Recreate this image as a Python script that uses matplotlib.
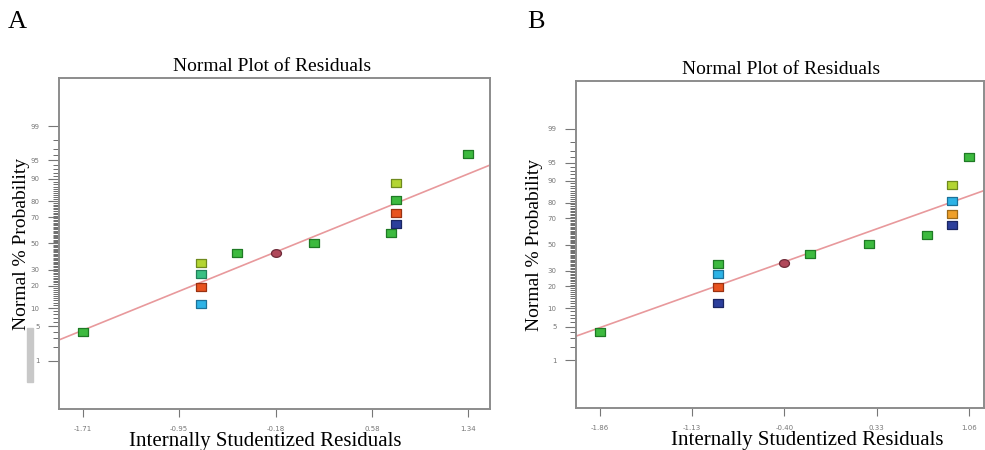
import numpy as np
import matplotlib
matplotlib.use('Agg')
import matplotlib.pyplot as plt
from matplotlib.patches import Rectangle
from statistics import NormalDist
import math

# residuals (x) and normal % probability (y)
a_x = [-1.71, -0.774, -0.774, -0.774, -0.774, -0.492, -0.182, 0.116, 0.730, 0.766, 0.766, 0.766, 0.766, 1.34]
a_p = [3.9, 34.8, 27.2, 19.3, 11.7, 42.7, 42.7, 50.0, 57.9, 65.4, 72.8, 80.8, 88.4, 96.2]
a_c = ['green', 'ygreen', 'teal', 'red', 'lblue', 'green', 'maroon', 'green', 'green', 'blue', 'red', 'green', 'ygreen', 'green']
a_line_x = [-1.90, 1.514]
a_line_p = [2.8, 94.0]
a_ticks = [-1.71, -0.95, -0.18, 0.58, 1.34]

b_x = [-1.86, -0.921, -0.921, -0.921, -0.921, -0.40, -0.194, 0.268, 0.730, 0.924, 0.924, 0.924, 0.924, 1.06]
b_p = [4.0, 34.9, 27.4, 19.5, 11.9, 35.9, 42.6, 50.3, 57.9, 65.5, 73.0, 80.7, 88.2, 96.0]
b_c = ['green', 'green', 'lblue', 'red', 'blue', 'maroon', 'green', 'green', 'green', 'blue', 'orange', 'lblue', 'ygreen', 'green']
b_line_x = [-2.046, 1.175]
b_line_p = [3.3, 86.0]
b_ticks = [-1.86, -1.13, -0.40, 0.33, 1.06]

y_major = [1, 5, 10, 20, 30, 50, 70, 80, 90, 95, 99]

colors = {'green': '#3dba3f', 'ygreen': '#b3d532', 'teal': '#39bf83', 'red': '#e8531f',
          'lblue': '#2db3e6', 'blue': '#2c3f9c', 'orange': '#efa02a', 'maroon': '#b0485a'}
edges = {'green': '#1f7a25', 'ygreen': '#6f8a1e', 'teal': '#22805a', 'red': '#9a3212',
         'lblue': '#1d7299', 'blue': '#1b2763', 'orange': '#9d6a1a', 'maroon': '#6e2a38'}

# slightly flattened square and ellipse markers
rect_marker = [(-1.25, -1), (1.25, -1), (1.25, 1), (-1.25, 1), (-1.25, -1)]
t = np.linspace(0, 2 * np.pi, 40)
oval_marker = list(zip(1.3 * np.cos(t), np.sin(t)))

nd = NormalDist()


def fwd(p):
    p = np.clip(np.asarray(p, dtype=float), 1e-7, 100 - 1e-7)
    return np.vectorize(lambda v: nd.inv_cdf(v / 100.0))(p) if p.size else p


def inv(z):
    z = np.asarray(z, dtype=float)
    return np.vectorize(lambda v: 50.0 * (1 + math.erf(v / math.sqrt(2))))(z) if z.size else z


serif = ['Liberation Serif', 'DejaVu Serif']
grey = '#8c8c8c'

fig = plt.figure(figsize=(9.85, 4.5), dpi=100)


def panel(rect, xs, ps, cs, lx, lp, ticks, xlim, title_x, xlab_x, ylab_x):
    ax = fig.add_axes(rect)
    ax.set_yscale('function', functions=(fwd, inv))
    ax.set_ylim(inv(-3.28), inv(3.28))
    ax.set_xlim(*xlim)
    ax.plot(lx, lp, color='#e8999c', lw=1.2, zorder=2)
    for x, p, c in zip(xs, ps, cs):
        m = oval_marker if c == 'maroon' else rect_marker
        ax.scatter(x, p, marker=m, s=48 if c != 'maroon' else 52, color=colors[c],
                   edgecolor=edges[c], linewidth=0.9, zorder=3)
    ax.set_yticks(y_major)
    ax.set_yticklabels([str(v) for v in y_major])
    ax.set_yticks(list(range(1, 100)), minor=True)
    ax.set_xticks(ticks)
    ax.set_xticklabels(['%.2f' % t for t in ticks])
    ax.tick_params(axis='y', which='major', length=8, width=0.8, color='#777777',
                   labelsize=5, labelcolor='#777777', pad=6)
    ax.tick_params(axis='y', which='minor', length=4.5, width=0.6, color='#555555')
    ax.tick_params(axis='x', which='major', length=6, width=0.8, color='#777777',
                   labelsize=5, labelcolor='#777777', pad=6)
    ax.tick_params(axis='x', which='minor', bottom=False)
    for s in ax.spines.values():
        s.set_color(grey)
        s.set_linewidth(1.4)
    ax.set_title('Normal Plot of Residuals', family=serif, fontsize=14, pad=5, x=title_x)
    ax.set_xlabel('Internally Studentized Residuals', family=serif, fontsize=15)
    ax.xaxis.set_label_coords(xlab_x, -0.07)
    ax.set_ylabel('Normal % Probability', family=serif, fontsize=14)
    ax.yaxis.set_label_coords(ylab_x, 0.5)
    return ax


axA = panel([0.0599, 0.0911, 0.4376, 0.7356], a_x, a_p, a_c, a_line_x, a_line_p,
            a_ticks, (-1.90, 1.514), 0.494, 0.478, -0.067)
axB = panel([0.5848, 0.0933, 0.414, 0.7267], b_x, b_p, b_c, b_line_x, b_line_p,
            b_ticks, (-2.046, 1.175), 0.504, 0.567, -0.081)

fig.text(0.008, 0.938, 'A', family=serif, fontsize=19)
fig.text(0.535, 0.938, 'B', family=serif, fontsize=19)
# grey scan artifact left of panel A
fig.patches.append(Rectangle((0.027, 0.151), 0.006, 0.12, transform=fig.transFigure,
                             color='#c8c8c8', zorder=0))

fig.savefig('out.png', dpi=100)
